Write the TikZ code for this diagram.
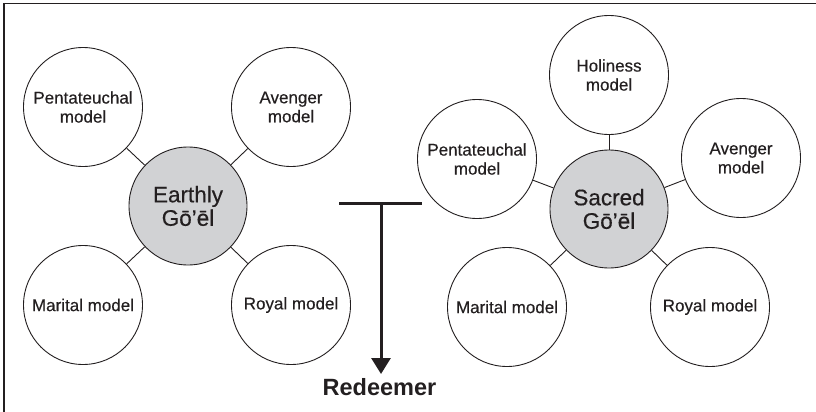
\documentclass[tikz,border=0pt]{standalone}
\usepackage{fontspec}
\setmainfont{Liberation Sans}
\newfontfamily\labelfont[FakeBold=0.35]{Liberation Sans}
\usetikzlibrary{arrows.meta}
\definecolor{ink}{RGB}{35,31,32}
\definecolor{hubgray}{RGB}{209,210,212}
\begin{document}
\begin{tikzpicture}[x=1pt,y=-1pt,
  model/.style={circle, draw=ink, line width=0.9pt, fill=white, minimum size=119pt,
    inner sep=0pt, align=center, text=ink, font=\labelfont\fontsize{17}{19}\selectfont},
  hub/.style={model, fill=hubgray, minimum size=118pt, font=\labelfont\fontsize{22.5}{23.5}\selectfont},
  link/.style={draw=ink, line width=0.9pt},
  bar/.style={draw=ink, line width=3pt}]
\useasboundingbox (0,0) rectangle (816,412);

% frame edges
\draw[ink, line width=1.8pt] (4.3,412) -- (4.3,3.5) -- (816,3.5);

% earthly cluster
\node[hub] (E) at (188,206) {Earthly\\Gō’ēl};
\node[model] (LP) at (83,107) {Pentateuchal\\model};
\node[model] (LA) at (291,107) {Avenger\\model};
\node[model] (LM) at (83,305) {Marital model};
\node[model] (LR) at (291,305) {Royal model};
\foreach \s in {LP,LA,LM,LR} \draw[link] (E) -- (\s);

% sacred cluster
\node[hub] (S) at (609,209) {Sacred\\Gō’ēl};
\node[model] (RH) at (609,75) {Holiness\\model};
\node[model] (RP) at (477,159) {Pentateuchal\\model};
\node[model] (RA) at (741,158) {Avenger\\model};
\node[model] (RM) at (507,307) {Marital model};
\node[model] (RR) at (710,307) {Royal model};
\foreach \s in {RH,RP,RA,RM,RR} \draw[link] (S) -- (\s);

% redeemer arrow
\coordinate (barL) at (339,203);
\coordinate (barR) at (422,203);
\coordinate (barM) at (381,203);
\coordinate (tip) at (381,374);
\draw[bar] (barL) -- (barR);
\draw[bar, -{Triangle[width=19pt,length=16pt]}] (barM) -- (tip);
\node[anchor=base, text=ink, font=\bfseries\fontsize{23.5}{26}\selectfont] (red) at (379.5,395) {Redeemer};
\end{tikzpicture}
\end{document}
